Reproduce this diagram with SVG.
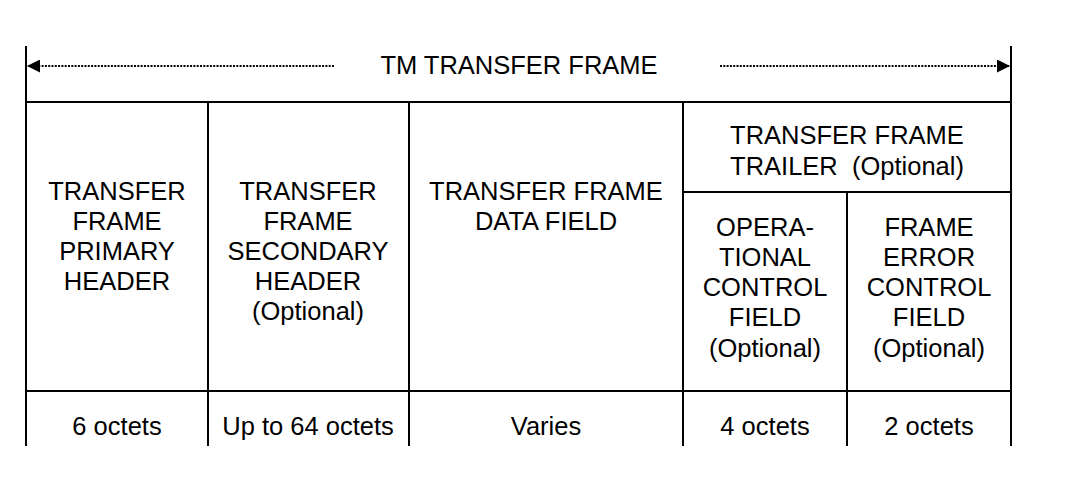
<svg xmlns="http://www.w3.org/2000/svg" width="1080" height="479" viewBox="0 0 1080 479">
  <style>
    .ln { stroke: #000; stroke-width: 2; fill: none; }
    .dot { stroke: #000; stroke-width: 2.2; stroke-dasharray: 2 1.3; fill: none; }
    text { font-family: "Liberation Sans", Arial, sans-serif; font-size: 25.5px; fill: #000; text-anchor: middle; }
  </style>
  <defs>
    <marker id="arr" viewBox="0 0 10 10" refX="10" refY="5" markerWidth="14" markerHeight="13" markerUnits="userSpaceOnUse" orient="auto">
      <path d="M0,0 L10,5 L0,10 z" fill="#000"/>
    </marker>
  </defs>
  <rect width="1080" height="479" fill="#fff"/>

  <!-- frame outline and cell grid -->
  <g id="grid">
    <line class="ln" x1="26" y1="46" x2="26" y2="446"/>
    <line class="ln" x1="1011" y1="46" x2="1011" y2="446"/>
    <line class="ln" x1="26" y1="102" x2="1011" y2="102"/>
    <line class="ln" x1="26" y1="391" x2="1011" y2="391"/>
    <line class="ln" x1="208" y1="102" x2="208" y2="446"/>
    <line class="ln" x1="409" y1="102" x2="409" y2="446"/>
    <line class="ln" x1="683" y1="102" x2="683" y2="446"/>
    <line class="ln" x1="847" y1="192" x2="847" y2="446"/>
    <line class="ln" x1="683" y1="192" x2="1011" y2="192"/>
  </g>

  <!-- span arrows -->
  <g id="connectors">
    <line class="dot" x1="334" y1="66" x2="27" y2="66" marker-end="url(#arr)"/>
    <line class="dot" x1="720" y1="66" x2="1010" y2="66" marker-end="url(#arr)"/>
  </g>

  <g id="title"><text x="519" y="74">TM TRANSFER FRAME</text></g>

  <g id="primary-header">
    <text x="117" y="200">TRANSFER</text>
    <text x="117" y="230">FRAME</text>
    <text x="117" y="260">PRIMARY</text>
    <text x="117" y="290">HEADER</text>
    <text x="117" y="435">6 octets</text>
  </g>

  <g id="secondary-header">
    <text x="308" y="200">TRANSFER</text>
    <text x="308" y="230">FRAME</text>
    <text x="308" y="260">SECONDARY</text>
    <text x="308" y="290">HEADER</text>
    <text x="308" y="320">(Optional)</text>
    <text x="308" y="435">Up to 64 octets</text>
  </g>

  <g id="data-field">
    <text x="546" y="200">TRANSFER FRAME</text>
    <text x="546" y="230">DATA FIELD</text>
    <text x="546" y="435">Varies</text>
  </g>

  <g id="trailer">
    <text x="847" y="144">TRANSFER FRAME</text>
    <text x="847" y="175" xml:space="preserve">TRAILER  (Optional)</text>
  </g>

  <g id="ocf">
    <text x="765" y="236">OPERA-</text>
    <text x="765" y="266">TIONAL</text>
    <text x="765" y="296">CONTROL</text>
    <text x="765" y="326">FIELD</text>
    <text x="765" y="357">(Optional)</text>
    <text x="765" y="435">4 octets</text>
  </g>

  <g id="fecf">
    <text x="929" y="236">FRAME</text>
    <text x="929" y="266">ERROR</text>
    <text x="929" y="296">CONTROL</text>
    <text x="929" y="326">FIELD</text>
    <text x="929" y="357">(Optional)</text>
    <text x="929" y="435">2 octets</text>
  </g>
</svg>
